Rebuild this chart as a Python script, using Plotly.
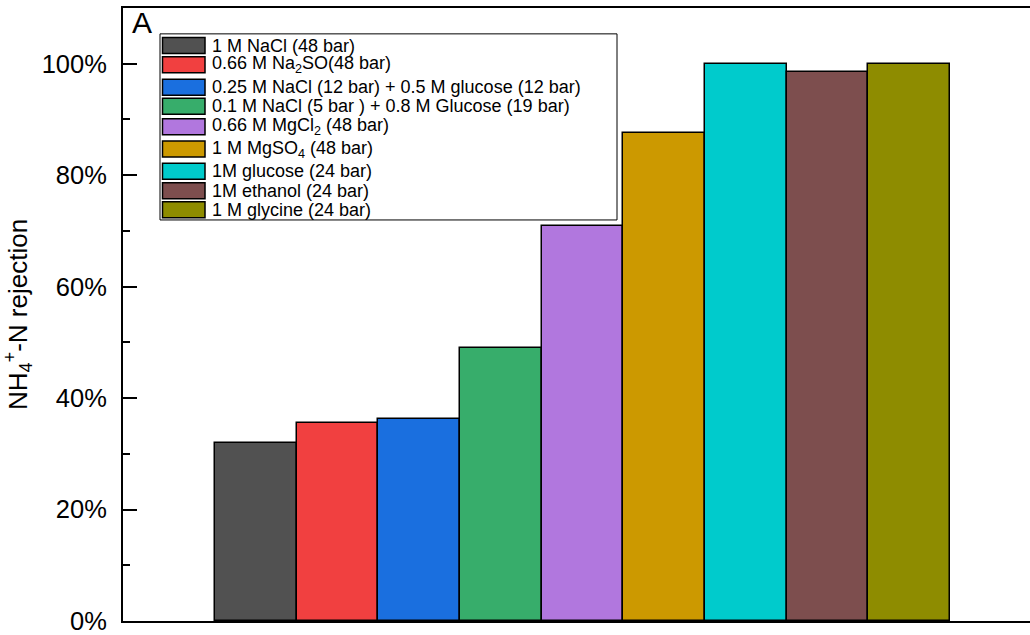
import plotly.graph_objects as go

# NH4+-N rejection for each feed solution
categories = [
    "1 M NaCl (48 bar)",
    "0.66 M Na<sub>2</sub>SO(48 bar)",
    "0.25 M NaCl (12 bar) + 0.5 M glucose (12 bar)",
    "0.1 M NaCl (5 bar ) + 0.8 M Glucose (19 bar)",
    "0.66 M MgCl<sub>2</sub> (48 bar)",
    "1 M MgSO<sub>4</sub> (48 bar)",
    "1M glucose (24 bar)",
    "1M ethanol (24 bar)",
    "1 M glycine (24 bar)",
]
rejection = [32.0, 35.6, 36.2, 48.9, 70.9, 87.6, 100.0, 98.5, 100.0]
y_ticks = [0, 20, 40, 60, 80, 100]
y_tick_labels = ["0%", "20%", "40%", "60%", "80%", "100%"]

colors = ["#515151", "#F14040", "#1A6FDF", "#37AD6B", "#B177DE",
          "#CC9900", "#00CBCC", "#7D4E4E", "#8E8C00"]

FONT = "Liberation Sans, Arial, sans-serif"
W, H = 1030, 635
L, R, T, B = 123, 0, 8, 11
plot_w = W - L - R
plot_h = H - T - B

def px_x(px):
    return (px - L) / plot_w

def px_y(py):
    return (H - B - py) / plot_h

positions = list(range(1, len(rejection) + 1))

fig = go.Figure()
fig.add_trace(go.Bar(
    x=positions,
    y=rejection,
    width=1.0,
    marker=dict(color=colors, line=dict(color="black", width=1.5)),
    hovertext=categories,
    showlegend=False,
))

# hand-built legend box with wide swatches
row_centers = [45.7, 65.0, 87.7, 106.7, 127.3, 149.7, 172.0, 191.7, 210.7]
shapes = [dict(type="rect", xref="paper", yref="paper",
               x0=px_x(160), x1=px_x(617), y0=px_y(221), y1=px_y(34),
               line=dict(color="black", width=1), fillcolor="white", layer="above")]
annotations = []
for name, col, cy in zip(categories, colors, row_centers):
    shapes.append(dict(type="rect", xref="paper", yref="paper",
                       x0=px_x(162.5), x1=px_x(205), y0=px_y(cy + 8), y1=px_y(cy - 8),
                       line=dict(color="black", width=1.5), fillcolor=col, layer="above"))
    annotations.append(dict(xref="paper", yref="paper", x=px_x(210), y=px_y(cy),
                            text=name, showarrow=False, xanchor="left", yanchor="middle",
                            font=dict(family=FONT, size=18, color="black")))

annotations.append(dict(xref="paper", yref="paper", x=px_x(130), y=px_y(23),
                        text="A", showarrow=False, xanchor="left", yanchor="middle",
                        font=dict(family=FONT, size=30, color="black")))

fig.update_layout(
    width=W, height=H,
    margin=dict(l=L, r=R, t=T, b=B, pad=0),
    paper_bgcolor="white", plot_bgcolor="white",
    font=dict(family=FONT, color="black"),
    shapes=shapes,
    annotations=annotations,
    bargap=0,
    xaxis=dict(
        range=[-0.627, 10.479],
        showticklabels=False, ticks="", showgrid=False, zeroline=False,
        showline=True, linecolor="black", linewidth=2, mirror=True,
    ),
    yaxis=dict(
        range=[0, 110],
        tickvals=y_ticks, ticktext=y_tick_labels,
        ticks="inside", ticklen=14, tickwidth=1.5, tickcolor="black",
        minor=dict(dtick=10, ticks="inside", ticklen=7, tickwidth=1.5, tickcolor="black"),
        tickfont=dict(family=FONT, size=25.5, color="black"),
        ticklabelstandoff=9,
        ticklabeloverflow="allow",
        showgrid=False, zeroline=False,
        showline=True, linecolor="black", linewidth=2,
        title=dict(text="NH<sub>4</sub><sup>+</sup>-N rejection",
                   font=dict(family=FONT, size=26, color="black"), standoff=8),
    ),
)

fig.write_html("out.html")
